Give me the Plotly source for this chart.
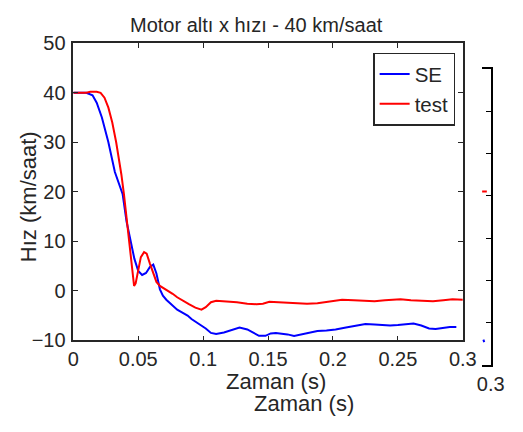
import plotly.graph_objects as go

# Canvas size (px)
W, H = 523, 432

# --- Motor altı x hızı, 40 km/saat: simulation (SE) vs. test ---
t_se = [0.000, 0.010, 0.0148, 0.018, 0.022, 0.027, 0.032, 0.035, 0.038, 0.041,
        0.044, 0.047, 0.050, 0.053, 0.056, 0.059, 0.0616, 0.064, 0.0667, 0.069,
        0.0716, 0.076, 0.080, 0.084, 0.088, 0.091, 0.095, 0.0987, 0.102, 0.106,
        0.110, 0.116, 0.122, 0.128, 0.134, 0.139, 0.143, 0.148, 0.152, 0.156,
        0.160, 0.165, 0.170, 0.176, 0.182, 0.188, 0.195, 0.202, 0.210, 0.218,
        0.225, 0.232, 0.238, 0.244, 0.250, 0.256, 0.262, 0.268, 0.274, 0.279,
        0.285, 0.290, 0.295]
v_se = [40.0, 40.0, 39.5, 38.0, 35.0, 30.0, 24.0, 21.5, 19.5, 14.0,
        10.0, 6.5, 4.0, 3.2, 3.6, 4.8, 5.3, 3.5, 0.3, -1.0,
        -1.8, -2.8, -3.8, -4.4, -5.0, -5.7, -6.4, -7.0, -7.6, -8.5,
        -8.7, -8.4, -7.9, -7.4, -7.8, -8.6, -9.1, -9.1, -8.6, -8.5,
        -8.6, -8.8, -9.1, -8.8, -8.4, -8.1, -8.0, -7.8, -7.4, -7.0,
        -6.7, -6.8, -6.9, -7.0, -6.9, -6.7, -6.6, -7.0, -7.6, -7.7,
        -7.4, -7.3, -7.3]

t_test = [0.000, 0.010, 0.013, 0.018, 0.021, 0.024, 0.027, 0.030, 0.033, 0.035,
          0.037, 0.039, 0.041, 0.043, 0.045, 0.0468, 0.048, 0.050, 0.052, 0.0545,
          0.0565, 0.059, 0.062, 0.064, 0.0667, 0.070, 0.0735, 0.0765, 0.080, 0.084,
          0.089, 0.094, 0.0987, 0.102, 0.106, 0.110, 0.118, 0.126, 0.134, 0.141,
          0.146, 0.151, 0.158, 0.165, 0.172, 0.180, 0.188, 0.196, 0.207, 0.216,
          0.224, 0.232, 0.240, 0.252, 0.260, 0.268, 0.277, 0.285, 0.292, 0.300]
v_test = [40.0, 40.0, 40.2, 40.2, 40.0, 39.0, 37.0, 34.0, 30.0, 27.0,
          23.5, 19.5, 14.5, 9.5, 4.5, 1.0, 1.5, 4.5, 6.8, 7.8,
          7.5, 5.5, 3.2, 1.8, 1.0, 0.5, 0.0, -0.6, -1.3, -2.0,
          -2.7, -3.4, -3.8, -3.3, -2.3, -2.0, -2.1, -2.3, -2.6, -2.7,
          -2.6, -2.2, -2.3, -2.4, -2.4, -2.6, -2.5, -2.2, -1.8, -1.9,
          -2.0, -2.1, -1.9, -1.7, -1.9, -2.0, -2.1, -1.9, -1.7, -1.8]

x_ticks = [0, 0.05, 0.1, 0.15, 0.2, 0.25, 0.3]
x_ticktext = ["0", "0.05", "0.1", "0.15", "0.2", "0.25", "0.3"]
y_ticks = [-10, 0, 10, 20, 30, 40, 50]

# Edge of the neighbouring chart that sits behind on the right
t_back_test = [0.2900, 0.2955]
v_back_test = [31.0, 31.0]
t_back_se = [0.2915, 0.2925]
v_back_se = [-4.0, -4.6]

FONT = "Liberation Sans, Arial, sans-serif"
INK = "#262626"


def px_x(p):
    """Window x position (px) -> paper fraction."""
    return p / W


def px_y(p):
    """Window y position (px, from top) -> paper fraction."""
    return (H - p) / H


fig = go.Figure()

fig.add_trace(go.Scatter(x=t_se, y=v_se, mode="lines", name="SE",
                         line=dict(color="rgb(0,0,255)", width=2)))
fig.add_trace(go.Scatter(x=t_test, y=v_test, mode="lines", name="test",
                         line=dict(color="rgb(255,0,0)", width=2)))

fig.add_trace(go.Scatter(x=t_back_test, y=v_back_test, mode="lines", showlegend=False,
                         xaxis="x2", yaxis="y2", line=dict(color="rgb(255,0,0)", width=2)))
fig.add_trace(go.Scatter(x=t_back_se, y=v_back_se, mode="lines", showlegend=False,
                         xaxis="x2", yaxis="y2", line=dict(color="rgb(0,0,255)", width=2)))

axis_common = dict(showline=True, linecolor=INK, linewidth=1.5, mirror="allticks",
                   ticks="inside", ticklen=5, tickwidth=1, tickcolor=INK,
                   showgrid=False, zeroline=False,
                   tickfont=dict(family=FONT, size=20, color=INK))

fig.update_layout(
    width=W, height=H,
    margin=dict(l=0, r=0, t=0, b=0),
    paper_bgcolor="white", plot_bgcolor="white",
    font=dict(family=FONT, color=INK),
    xaxis=dict(domain=[px_x(70), px_x(475)], range=[0, 0.3],
               tickvals=x_ticks, ticktext=x_ticktext, **axis_common),
    yaxis=dict(domain=[px_y(347), px_y(34)], range=[-10, 50],
               tickvals=y_ticks, ticklabelstandoff=2, **axis_common),
    xaxis2=dict(domain=[px_x(495), px_x(504)], range=[0.29, 0.30], anchor="y2",
                showline=True, linecolor="black", linewidth=1.5, mirror=True,
                ticks="", tickvals=[0.30], ticktext=["0.3"],
                showgrid=False, zeroline=False,
                tickfont=dict(family=FONT, size=20, color=INK)),
    yaxis2=dict(domain=[px_y(373), px_y(61)], range=[-10, 60], anchor="x2",
                side="right", showline=True, linecolor="black", linewidth=1.5,
                ticks="inside", ticklen=5, tickcolor="black", dtick=10,
                showticklabels=False, showgrid=False, zeroline=False),
    legend=dict(x=px_x(467), xanchor="right", y=px_y(44), yanchor="top",
                bgcolor="white", bordercolor=INK, borderwidth=1.5,
                font=dict(family=FONT, size=20.5, color=INK)),
    showlegend=True,
)

annotations = [
    dict(text="Motor altı x hızı - 40 km/saat", x=px_x(260), y=px_y(15),
         font=dict(size=20)),
    dict(text="Zaman (s)", x=px_x(281), y=px_y(390), font=dict(size=22)),
    dict(text="Zaman (s)", x=px_x(310), y=px_y(414), font=dict(size=22)),
    dict(text="Hız (km/saat)", x=px_x(23), y=px_y(196), textangle=-90,
         font=dict(size=22)),
]
for a in annotations:
    a.update(xref="paper", yref="paper", showarrow=False,
             xanchor="center", yanchor="middle")
    a["font"].update(family=FONT, color=INK)
fig.update_layout(annotations=annotations)

fig.write_html("out.html")
